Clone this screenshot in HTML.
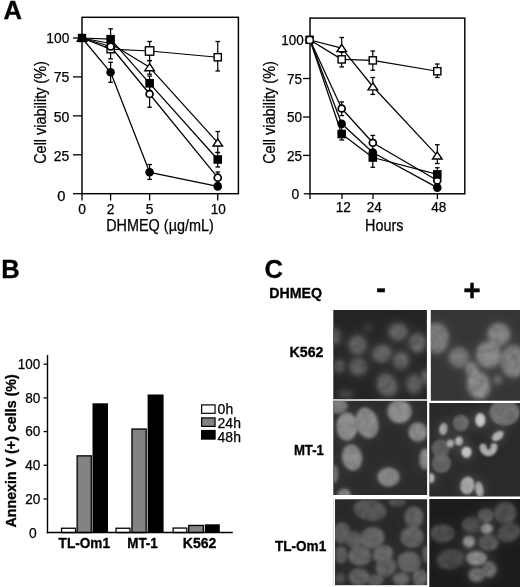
<!DOCTYPE html>
<html lang="en"><head><meta charset="utf-8"><title>Figure</title>
<style>html,body{margin:0;padding:0;background:#fff;}svg{display:block;}text{font-family:"Liberation Sans", Arial, Helvetica, sans-serif;fill:#000;}.t{font-size:14px;stroke:#000;stroke-width:0.25px;}.ax{font-size:15.6px;stroke:#000;stroke-width:0.25px;}.b{font-weight:bold;font-size:14px;stroke:#000;stroke-width:0.3px;}</style></head><body>
<svg width="520" height="587" viewBox="0 0 520 587">
<defs>
<filter id="glow" x="-50%" y="-50%" width="200%" height="200%"><feGaussianBlur stdDeviation="5"/></filter>
</defs>
<rect x="0" y="0" width="520" height="587" fill="#fff"/>
<g id="plotA1">
<rect x="82.00" y="17.30" width="156.40" height="176.40" fill="none" stroke="#000" stroke-width="1.45"/>
<line x1="73.00" y1="38.00" x2="82.00" y2="38.00" stroke="#000" stroke-width="1.30"/>
<text x="69.30" y="42.55" class="t" text-anchor="end" textLength="23.00" lengthAdjust="spacingAndGlyphs">100</text>
<line x1="73.00" y1="76.90" x2="82.00" y2="76.90" stroke="#000" stroke-width="1.30"/>
<text x="69.30" y="82.05" class="t" text-anchor="end" textLength="15.60" lengthAdjust="spacingAndGlyphs">75</text>
<line x1="73.00" y1="115.85" x2="82.00" y2="115.85" stroke="#000" stroke-width="1.30"/>
<text x="69.30" y="121.75" class="t" text-anchor="end" textLength="15.60" lengthAdjust="spacingAndGlyphs">50</text>
<line x1="73.00" y1="154.80" x2="82.00" y2="154.80" stroke="#000" stroke-width="1.30"/>
<text x="69.30" y="161.05" class="t" text-anchor="end" textLength="15.60" lengthAdjust="spacingAndGlyphs">25</text>
<line x1="73.00" y1="193.70" x2="82.00" y2="193.70" stroke="#000" stroke-width="1.30"/>
<text x="65.50" y="200.95" class="t" text-anchor="end" textLength="8.20" lengthAdjust="spacingAndGlyphs">0</text>
<line x1="82.00" y1="193.70" x2="82.00" y2="200.50" stroke="#000" stroke-width="1.30"/>
<text x="82.00" y="214.00" class="t" text-anchor="middle" textLength="7.70" lengthAdjust="spacingAndGlyphs">0</text>
<line x1="110.60" y1="193.70" x2="110.60" y2="200.50" stroke="#000" stroke-width="1.30"/>
<text x="110.60" y="214.00" class="t" text-anchor="middle" textLength="7.70" lengthAdjust="spacingAndGlyphs">2</text>
<line x1="149.60" y1="193.70" x2="149.60" y2="200.50" stroke="#000" stroke-width="1.30"/>
<text x="149.60" y="214.00" class="t" text-anchor="middle" textLength="7.70" lengthAdjust="spacingAndGlyphs">5</text>
<line x1="217.75" y1="193.70" x2="217.75" y2="200.50" stroke="#000" stroke-width="1.30"/>
<text x="218.35" y="214.00" class="t" text-anchor="middle" textLength="15.10" lengthAdjust="spacingAndGlyphs">10</text>
<text x="106.20" y="230.80" class="ax" text-anchor="start" textLength="107.60" lengthAdjust="spacingAndGlyphs">DHMEQ (µg/mL)</text>
<text transform="translate(45.70 163.80) rotate(-90)" class="ax" textLength="102.60" lengthAdjust="spacingAndGlyphs">Cell viability (%)</text>
<line x1="82.00" y1="38.00" x2="110.60" y2="43.50" stroke="#000" stroke-width="1.25"/>
<line x1="110.60" y1="43.50" x2="149.60" y2="67.30" stroke="#000" stroke-width="1.25"/>
<line x1="149.60" y1="67.30" x2="217.75" y2="142.60" stroke="#000" stroke-width="1.25"/>
<line x1="82.00" y1="38.00" x2="110.60" y2="49.20" stroke="#000" stroke-width="1.25"/>
<line x1="110.60" y1="49.20" x2="149.60" y2="51.00" stroke="#000" stroke-width="1.25"/>
<line x1="149.60" y1="51.00" x2="217.75" y2="57.25" stroke="#000" stroke-width="1.25"/>
<line x1="82.00" y1="38.00" x2="110.60" y2="46.50" stroke="#000" stroke-width="1.25"/>
<line x1="110.60" y1="46.50" x2="149.60" y2="94.00" stroke="#000" stroke-width="1.25"/>
<line x1="149.60" y1="94.00" x2="217.75" y2="177.70" stroke="#000" stroke-width="1.25"/>
<line x1="82.00" y1="38.00" x2="110.60" y2="39.20" stroke="#000" stroke-width="1.25"/>
<line x1="110.60" y1="39.20" x2="149.60" y2="83.30" stroke="#000" stroke-width="1.25"/>
<line x1="149.60" y1="83.30" x2="217.75" y2="159.50" stroke="#000" stroke-width="1.25"/>
<line x1="82.00" y1="38.00" x2="110.60" y2="72.30" stroke="#000" stroke-width="1.25"/>
<line x1="110.60" y1="72.30" x2="149.60" y2="172.30" stroke="#000" stroke-width="1.25"/>
<line x1="149.60" y1="172.30" x2="217.75" y2="186.40" stroke="#000" stroke-width="1.25"/>
<line x1="149.60" y1="60.60" x2="149.60" y2="74.20" stroke="#000" stroke-width="1.20"/>
<line x1="147.30" y1="60.60" x2="151.90" y2="60.60" stroke="#000" stroke-width="1.30"/>
<line x1="147.30" y1="74.20" x2="151.90" y2="74.20" stroke="#000" stroke-width="1.30"/>
<line x1="217.75" y1="131.50" x2="217.75" y2="152.50" stroke="#000" stroke-width="1.20"/>
<line x1="215.45" y1="131.50" x2="220.05" y2="131.50" stroke="#000" stroke-width="1.30"/>
<line x1="215.45" y1="152.50" x2="220.05" y2="152.50" stroke="#000" stroke-width="1.30"/>
<line x1="110.60" y1="40.00" x2="110.60" y2="58.85" stroke="#000" stroke-width="1.20"/>
<line x1="108.30" y1="40.00" x2="112.90" y2="40.00" stroke="#000" stroke-width="1.30"/>
<line x1="108.30" y1="58.85" x2="112.90" y2="58.85" stroke="#000" stroke-width="1.30"/>
<line x1="149.60" y1="41.50" x2="149.60" y2="60.60" stroke="#000" stroke-width="1.20"/>
<line x1="147.30" y1="41.50" x2="151.90" y2="41.50" stroke="#000" stroke-width="1.30"/>
<line x1="147.30" y1="60.60" x2="151.90" y2="60.60" stroke="#000" stroke-width="1.30"/>
<line x1="217.75" y1="41.50" x2="217.75" y2="71.00" stroke="#000" stroke-width="1.20"/>
<line x1="215.45" y1="41.50" x2="220.05" y2="41.50" stroke="#000" stroke-width="1.30"/>
<line x1="215.45" y1="71.00" x2="220.05" y2="71.00" stroke="#000" stroke-width="1.30"/>
<line x1="149.60" y1="81.00" x2="149.60" y2="107.25" stroke="#000" stroke-width="1.20"/>
<line x1="147.30" y1="81.00" x2="151.90" y2="81.00" stroke="#000" stroke-width="1.30"/>
<line x1="147.30" y1="107.25" x2="151.90" y2="107.25" stroke="#000" stroke-width="1.30"/>
<line x1="217.75" y1="172.00" x2="217.75" y2="183.00" stroke="#000" stroke-width="1.20"/>
<line x1="215.45" y1="172.00" x2="220.05" y2="172.00" stroke="#000" stroke-width="1.30"/>
<line x1="215.45" y1="183.00" x2="220.05" y2="183.00" stroke="#000" stroke-width="1.30"/>
<line x1="110.60" y1="28.85" x2="110.60" y2="49.00" stroke="#000" stroke-width="1.20"/>
<line x1="108.30" y1="28.85" x2="112.90" y2="28.85" stroke="#000" stroke-width="1.30"/>
<line x1="108.30" y1="49.00" x2="112.90" y2="49.00" stroke="#000" stroke-width="1.30"/>
<line x1="149.60" y1="76.00" x2="149.60" y2="90.50" stroke="#000" stroke-width="1.20"/>
<line x1="147.30" y1="76.00" x2="151.90" y2="76.00" stroke="#000" stroke-width="1.30"/>
<line x1="147.30" y1="90.50" x2="151.90" y2="90.50" stroke="#000" stroke-width="1.30"/>
<line x1="217.75" y1="152.50" x2="217.75" y2="167.00" stroke="#000" stroke-width="1.20"/>
<line x1="215.45" y1="152.50" x2="220.05" y2="152.50" stroke="#000" stroke-width="1.30"/>
<line x1="215.45" y1="167.00" x2="220.05" y2="167.00" stroke="#000" stroke-width="1.30"/>
<line x1="110.60" y1="62.30" x2="110.60" y2="82.30" stroke="#000" stroke-width="1.20"/>
<line x1="108.30" y1="62.30" x2="112.90" y2="62.30" stroke="#000" stroke-width="1.30"/>
<line x1="108.30" y1="82.30" x2="112.90" y2="82.30" stroke="#000" stroke-width="1.30"/>
<line x1="149.60" y1="164.50" x2="149.60" y2="179.40" stroke="#000" stroke-width="1.20"/>
<line x1="147.30" y1="164.50" x2="151.90" y2="164.50" stroke="#000" stroke-width="1.30"/>
<line x1="147.30" y1="179.40" x2="151.90" y2="179.40" stroke="#000" stroke-width="1.30"/>
<polygon points="110.60,39.80 105.80,46.90 115.40,46.90" fill="#fff" stroke="#000" stroke-width="1.40" stroke-linejoin="miter"/>
<polygon points="149.60,63.60 144.80,70.70 154.40,70.70" fill="#fff" stroke="#000" stroke-width="1.40" stroke-linejoin="miter"/>
<polygon points="217.75,138.90 212.95,146.00 222.55,146.00" fill="#fff" stroke="#000" stroke-width="1.40" stroke-linejoin="miter"/>
<rect x="107.00" y="45.60" width="7.20" height="7.20" fill="#fff" stroke="#000" stroke-width="1.40"/>
<rect x="145.40" y="46.80" width="8.40" height="8.40" fill="#fff" stroke="#000" stroke-width="1.40"/>
<rect x="214.15" y="53.65" width="7.20" height="7.20" fill="#fff" stroke="#000" stroke-width="1.40"/>
<circle cx="110.60" cy="46.50" r="3.47" fill="#fff" stroke="#000" stroke-width="1.75"/>
<circle cx="149.60" cy="94.00" r="3.47" fill="#fff" stroke="#000" stroke-width="1.75"/>
<circle cx="217.75" cy="177.70" r="3.47" fill="#fff" stroke="#000" stroke-width="1.75"/>
<rect x="106.30" y="34.90" width="8.60" height="8.60" fill="#000"/>
<rect x="145.30" y="79.00" width="8.60" height="8.60" fill="#000"/>
<rect x="213.45" y="155.20" width="8.60" height="8.60" fill="#000"/>
<circle cx="110.60" cy="72.30" r="4.30" fill="#000"/>
<circle cx="149.60" cy="172.30" r="4.30" fill="#000"/>
<circle cx="217.75" cy="186.40" r="4.30" fill="#000"/>
<polygon points="82.00,34.30 77.20,41.40 86.80,41.40" fill="#fff" stroke="#000" stroke-width="1.40" stroke-linejoin="miter"/>
<rect x="77.80" y="33.80" width="8.40" height="8.40" fill="#000"/>
</g>
<g id="plotA2">
<rect x="310.00" y="18.10" width="154.80" height="175.70" fill="none" stroke="#000" stroke-width="1.45"/>
<line x1="304.80" y1="40.00" x2="310.00" y2="40.00" stroke="#000" stroke-width="1.30"/>
<text x="303.80" y="44.55" class="t" text-anchor="end" textLength="22.50" lengthAdjust="spacingAndGlyphs">100</text>
<line x1="303.00" y1="78.50" x2="310.00" y2="78.50" stroke="#000" stroke-width="1.30"/>
<text x="302.00" y="84.10" class="t" text-anchor="end" textLength="15.10" lengthAdjust="spacingAndGlyphs">75</text>
<line x1="303.00" y1="117.00" x2="310.00" y2="117.00" stroke="#000" stroke-width="1.30"/>
<text x="302.00" y="122.30" class="t" text-anchor="end" textLength="15.10" lengthAdjust="spacingAndGlyphs">50</text>
<line x1="303.00" y1="155.40" x2="310.00" y2="155.40" stroke="#000" stroke-width="1.30"/>
<text x="302.00" y="161.00" class="t" text-anchor="end" textLength="15.10" lengthAdjust="spacingAndGlyphs">25</text>
<line x1="303.80" y1="193.80" x2="310.00" y2="193.80" stroke="#000" stroke-width="1.30"/>
<text x="299.30" y="199.10" class="t" text-anchor="end" textLength="7.70" lengthAdjust="spacingAndGlyphs">0</text>
<line x1="310.00" y1="193.80" x2="310.00" y2="199.00" stroke="#000" stroke-width="1.30"/>
<line x1="342.00" y1="193.80" x2="342.00" y2="199.00" stroke="#000" stroke-width="1.30"/>
<text x="343.30" y="211.70" class="t" text-anchor="middle" textLength="15.10" lengthAdjust="spacingAndGlyphs">12</text>
<line x1="373.00" y1="193.80" x2="373.00" y2="199.00" stroke="#000" stroke-width="1.30"/>
<text x="374.30" y="211.70" class="t" text-anchor="middle" textLength="15.10" lengthAdjust="spacingAndGlyphs">24</text>
<line x1="437.40" y1="193.80" x2="437.40" y2="199.00" stroke="#000" stroke-width="1.30"/>
<text x="438.70" y="211.70" class="t" text-anchor="middle" textLength="15.10" lengthAdjust="spacingAndGlyphs">48</text>
<text x="365.00" y="230.50" class="ax" text-anchor="start" textLength="38.40" lengthAdjust="spacingAndGlyphs">Hours</text>
<text transform="translate(274.50 163.80) rotate(-90)" class="ax" textLength="102.60" lengthAdjust="spacingAndGlyphs">Cell viability (%)</text>
<line x1="310.00" y1="40.00" x2="341.70" y2="108.50" stroke="#000" stroke-width="1.25"/>
<line x1="341.70" y1="108.50" x2="372.80" y2="142.75" stroke="#000" stroke-width="1.25"/>
<line x1="372.80" y1="142.75" x2="437.30" y2="180.50" stroke="#000" stroke-width="1.25"/>
<line x1="310.00" y1="40.00" x2="341.70" y2="48.20" stroke="#000" stroke-width="1.25"/>
<line x1="341.70" y1="48.20" x2="372.80" y2="86.50" stroke="#000" stroke-width="1.25"/>
<line x1="372.80" y1="86.50" x2="437.30" y2="155.60" stroke="#000" stroke-width="1.25"/>
<line x1="310.00" y1="40.00" x2="341.70" y2="59.40" stroke="#000" stroke-width="1.25"/>
<line x1="341.70" y1="59.40" x2="372.80" y2="60.40" stroke="#000" stroke-width="1.25"/>
<line x1="372.80" y1="60.40" x2="437.30" y2="71.25" stroke="#000" stroke-width="1.25"/>
<line x1="310.00" y1="40.00" x2="341.70" y2="123.75" stroke="#000" stroke-width="1.25"/>
<line x1="341.70" y1="123.75" x2="372.80" y2="152.50" stroke="#000" stroke-width="1.25"/>
<line x1="372.80" y1="152.50" x2="437.30" y2="187.60" stroke="#000" stroke-width="1.25"/>
<line x1="310.00" y1="40.00" x2="341.70" y2="134.00" stroke="#000" stroke-width="1.25"/>
<line x1="341.70" y1="134.00" x2="372.80" y2="157.50" stroke="#000" stroke-width="1.25"/>
<line x1="372.80" y1="157.50" x2="437.30" y2="174.40" stroke="#000" stroke-width="1.25"/>
<line x1="341.70" y1="101.90" x2="341.70" y2="115.60" stroke="#000" stroke-width="1.20"/>
<line x1="339.40" y1="101.90" x2="344.00" y2="101.90" stroke="#000" stroke-width="1.30"/>
<line x1="339.40" y1="115.60" x2="344.00" y2="115.60" stroke="#000" stroke-width="1.30"/>
<line x1="372.80" y1="135.40" x2="372.80" y2="150.00" stroke="#000" stroke-width="1.20"/>
<line x1="370.50" y1="135.40" x2="375.10" y2="135.40" stroke="#000" stroke-width="1.30"/>
<line x1="370.50" y1="150.00" x2="375.10" y2="150.00" stroke="#000" stroke-width="1.30"/>
<line x1="341.70" y1="37.50" x2="341.70" y2="52.00" stroke="#000" stroke-width="1.20"/>
<line x1="339.40" y1="37.50" x2="344.00" y2="37.50" stroke="#000" stroke-width="1.30"/>
<line x1="339.40" y1="52.00" x2="344.00" y2="52.00" stroke="#000" stroke-width="1.30"/>
<line x1="372.80" y1="77.50" x2="372.80" y2="94.40" stroke="#000" stroke-width="1.20"/>
<line x1="370.50" y1="77.50" x2="375.10" y2="77.50" stroke="#000" stroke-width="1.30"/>
<line x1="370.50" y1="94.40" x2="375.10" y2="94.40" stroke="#000" stroke-width="1.30"/>
<line x1="437.30" y1="144.75" x2="437.30" y2="163.50" stroke="#000" stroke-width="1.20"/>
<line x1="435.00" y1="144.75" x2="439.60" y2="144.75" stroke="#000" stroke-width="1.30"/>
<line x1="435.00" y1="163.50" x2="439.60" y2="163.50" stroke="#000" stroke-width="1.30"/>
<line x1="341.70" y1="52.00" x2="341.70" y2="66.90" stroke="#000" stroke-width="1.20"/>
<line x1="339.40" y1="52.00" x2="344.00" y2="52.00" stroke="#000" stroke-width="1.30"/>
<line x1="339.40" y1="66.90" x2="344.00" y2="66.90" stroke="#000" stroke-width="1.30"/>
<line x1="372.80" y1="51.00" x2="372.80" y2="70.25" stroke="#000" stroke-width="1.20"/>
<line x1="370.50" y1="51.00" x2="375.10" y2="51.00" stroke="#000" stroke-width="1.30"/>
<line x1="370.50" y1="70.25" x2="375.10" y2="70.25" stroke="#000" stroke-width="1.30"/>
<line x1="437.30" y1="64.00" x2="437.30" y2="77.50" stroke="#000" stroke-width="1.20"/>
<line x1="435.00" y1="64.00" x2="439.60" y2="64.00" stroke="#000" stroke-width="1.30"/>
<line x1="435.00" y1="77.50" x2="439.60" y2="77.50" stroke="#000" stroke-width="1.30"/>
<line x1="341.70" y1="127.00" x2="341.70" y2="140.00" stroke="#000" stroke-width="1.20"/>
<line x1="339.40" y1="127.00" x2="344.00" y2="127.00" stroke="#000" stroke-width="1.30"/>
<line x1="339.40" y1="140.00" x2="344.00" y2="140.00" stroke="#000" stroke-width="1.30"/>
<line x1="372.80" y1="150.00" x2="372.80" y2="167.25" stroke="#000" stroke-width="1.20"/>
<line x1="370.50" y1="150.00" x2="375.10" y2="150.00" stroke="#000" stroke-width="1.30"/>
<line x1="370.50" y1="167.25" x2="375.10" y2="167.25" stroke="#000" stroke-width="1.30"/>
<line x1="437.30" y1="167.75" x2="437.30" y2="180.00" stroke="#000" stroke-width="1.20"/>
<line x1="435.00" y1="167.75" x2="439.60" y2="167.75" stroke="#000" stroke-width="1.30"/>
<line x1="435.00" y1="180.00" x2="439.60" y2="180.00" stroke="#000" stroke-width="1.30"/>
<circle cx="341.70" cy="108.50" r="3.47" fill="#fff" stroke="#000" stroke-width="1.75"/>
<circle cx="372.80" cy="142.75" r="3.47" fill="#fff" stroke="#000" stroke-width="1.75"/>
<circle cx="437.30" cy="180.50" r="3.47" fill="#fff" stroke="#000" stroke-width="1.75"/>
<polygon points="341.70,44.50 336.90,51.60 346.50,51.60" fill="#fff" stroke="#000" stroke-width="1.40" stroke-linejoin="miter"/>
<polygon points="372.80,82.80 368.00,89.90 377.60,89.90" fill="#fff" stroke="#000" stroke-width="1.40" stroke-linejoin="miter"/>
<polygon points="437.30,151.90 432.50,159.00 442.10,159.00" fill="#fff" stroke="#000" stroke-width="1.40" stroke-linejoin="miter"/>
<rect x="338.10" y="55.80" width="7.20" height="7.20" fill="#fff" stroke="#000" stroke-width="1.40"/>
<rect x="369.20" y="56.80" width="7.20" height="7.20" fill="#fff" stroke="#000" stroke-width="1.40"/>
<rect x="433.70" y="67.65" width="7.20" height="7.20" fill="#fff" stroke="#000" stroke-width="1.40"/>
<circle cx="341.70" cy="123.75" r="4.30" fill="#000"/>
<circle cx="372.80" cy="152.50" r="4.30" fill="#000"/>
<circle cx="437.30" cy="187.60" r="4.30" fill="#000"/>
<rect x="337.40" y="129.70" width="8.60" height="8.60" fill="#000"/>
<rect x="368.50" y="153.20" width="8.60" height="8.60" fill="#000"/>
<rect x="433.00" y="170.10" width="8.60" height="8.60" fill="#000"/>
<rect x="305.35" y="35.55" width="8.50" height="8.50" fill="#000"/>
<circle cx="309.7" cy="39.9" r="3.5" fill="#fff" stroke="#000" stroke-width="1.1"/>
</g>
<text x="3.60" y="18.80" class="b" text-anchor="start" style="font-size:25.6px">A</text>
<text x="1.20" y="277.90" class="b" text-anchor="start" style="font-size:25.6px">B</text>
<text x="264.40" y="278.00" class="b" text-anchor="start" style="font-size:25.6px">C</text>
<g id="plotB">
<rect x="61.55" y="528.25" width="14.00" height="4.35" fill="#fff" stroke="#000" stroke-width="1.3"/>
<rect x="77.15" y="455.85" width="14.10" height="76.75" fill="#838383" stroke="#000" stroke-width="1.3"/>
<rect x="92.50" y="403.30" width="15.50" height="129.30" fill="#000"/>
<rect x="116.05" y="528.25" width="13.90" height="4.35" fill="#fff" stroke="#000" stroke-width="1.3"/>
<rect x="131.95" y="429.05" width="14.20" height="103.55" fill="#838383" stroke="#000" stroke-width="1.3"/>
<rect x="147.60" y="394.50" width="16.00" height="138.10" fill="#000"/>
<rect x="173.15" y="528.05" width="13.70" height="4.55" fill="#fff" stroke="#000" stroke-width="1.3"/>
<rect x="188.75" y="525.45" width="14.60" height="7.15" fill="#838383" stroke="#000" stroke-width="1.3"/>
<rect x="204.80" y="524.30" width="15.00" height="8.30" fill="#000"/>
<line x1="47.50" y1="355.00" x2="47.50" y2="533.30" stroke="#000" stroke-width="1.40"/>
<line x1="46.80" y1="532.60" x2="232.80" y2="532.60" stroke="#000" stroke-width="1.50"/>
<line x1="43.60" y1="498.92" x2="47.50" y2="498.92" stroke="#000" stroke-width="1.30"/>
<text x="40.30" y="503.67" class="t" text-anchor="end" textLength="15.10" lengthAdjust="spacingAndGlyphs">20</text>
<line x1="43.60" y1="465.24" x2="47.50" y2="465.24" stroke="#000" stroke-width="1.30"/>
<text x="40.30" y="469.99" class="t" text-anchor="end" textLength="15.10" lengthAdjust="spacingAndGlyphs">40</text>
<line x1="43.60" y1="431.56" x2="47.50" y2="431.56" stroke="#000" stroke-width="1.30"/>
<text x="40.30" y="436.31" class="t" text-anchor="end" textLength="15.10" lengthAdjust="spacingAndGlyphs">60</text>
<line x1="43.60" y1="397.88" x2="47.50" y2="397.88" stroke="#000" stroke-width="1.30"/>
<text x="40.30" y="402.63" class="t" text-anchor="end" textLength="15.10" lengthAdjust="spacingAndGlyphs">80</text>
<line x1="43.60" y1="364.20" x2="47.50" y2="364.20" stroke="#000" stroke-width="1.30"/>
<text x="40.30" y="368.95" class="t" text-anchor="end" textLength="22.50" lengthAdjust="spacingAndGlyphs">100</text>
<text x="36.60" y="537.90" class="t" text-anchor="end" textLength="7.70" lengthAdjust="spacingAndGlyphs">0</text>
<text transform="translate(15.90 527.50) rotate(-90)" class="b" textLength="153.20" lengthAdjust="spacingAndGlyphs">Annexin V (+) cells (%)</text>
<text x="58.60" y="548.10" class="b" text-anchor="start" textLength="51.40" lengthAdjust="spacingAndGlyphs" style="font-size:14px">TL-Om1</text>
<text x="127.20" y="548.10" class="b" text-anchor="start" textLength="30.60" lengthAdjust="spacingAndGlyphs" style="font-size:14px">MT-1</text>
<text x="182.80" y="548.10" class="b" text-anchor="start" textLength="33.60" lengthAdjust="spacingAndGlyphs" style="font-size:14px">K562</text>
<rect x="201.65" y="404.9" width="13.4" height="8.4" fill="#fff" stroke="#000" stroke-width="1.2"/>
<rect x="201.65" y="417.9" width="13.4" height="8.5" fill="#838383" stroke="#000" stroke-width="1.2"/>
<rect x="201.0" y="429.9" width="14.7" height="9.8" fill="#000"/>
<text x="217.60" y="414.40" class="t" text-anchor="start">0h</text>
<text x="217.60" y="428.10" class="t" text-anchor="start" textLength="23.30" lengthAdjust="spacingAndGlyphs">24h</text>
<text x="217.60" y="441.90" class="t" text-anchor="start" textLength="23.30" lengthAdjust="spacingAndGlyphs">48h</text>
</g>
<g id="panelC">
<text x="269.20" y="298.00" class="b" text-anchor="start" textLength="52.80" lengthAdjust="spacingAndGlyphs" style="font-size:14px">DHMEQ</text>
<text x="380.90" y="297.80" class="b" text-anchor="middle" style="font-size:30px">-</text>
<text x="472.10" y="299.90" class="b" text-anchor="middle" style="font-size:30px">+</text>
<text x="323.40" y="356.50" class="b" text-anchor="end" textLength="33.90" lengthAdjust="spacingAndGlyphs" style="font-size:14px">K562</text>
<text x="323.90" y="455.40" class="b" text-anchor="end" textLength="30.00" lengthAdjust="spacingAndGlyphs" style="font-size:14px">MT-1</text>
<text x="326.20" y="550.80" class="b" text-anchor="end" textLength="51.20" lengthAdjust="spacingAndGlyphs" style="font-size:14px">TL-Om1</text>
<clipPath id="c_m1"><rect x="333.30" y="310.00" width="93.60" height="89.20"/></clipPath>
<g clip-path="url(#c_m1)">
<rect x="328.30" y="305.00" width="103.60" height="99.20" fill="#242424"/>
<g filter="url(#glow)" opacity="0.28">
<ellipse cx="398.0" cy="332.0" rx="13.0" ry="12.0" fill="#6a6a6a"/>
<ellipse cx="357.6" cy="345.0" rx="12.0" ry="13.0" fill="#6a6a6a"/>
<ellipse cx="417.6" cy="343.0" rx="12.0" ry="13.0" fill="#6c6c6c"/>
<ellipse cx="382.0" cy="353.6" rx="13.0" ry="12.0" fill="#6e6e6e" transform="rotate(-20 382.0 353.6)"/>
<ellipse cx="401.0" cy="360.4" rx="11.5" ry="12.0" fill="#686868"/>
<ellipse cx="358.0" cy="367.0" rx="12.0" ry="12.0" fill="#666"/>
<ellipse cx="339.0" cy="366.0" rx="9.0" ry="10.0" fill="#5c5c5c"/>
<ellipse cx="387.0" cy="385.0" rx="13.0" ry="15.0" fill="#6c6c6c" transform="rotate(-30 387.0 385.0)"/>
<ellipse cx="414.0" cy="384.0" rx="11.0" ry="13.0" fill="#666"/>
<ellipse cx="335.0" cy="336.5" rx="9.0" ry="12.0" fill="#5e5e5e"/>
<ellipse cx="368.0" cy="328.0" rx="9.0" ry="8.0" fill="#3a3a3a"/>
<ellipse cx="346.0" cy="394.0" rx="11.0" ry="8.0" fill="#484848"/>
<ellipse cx="425.5" cy="377.0" rx="6.5" ry="11.0" fill="#787878"/>
</g>
<filter id="f_m1" x="-50%" y="-50%" width="200%" height="200%" color-interpolation-filters="sRGB"><feGaussianBlur stdDeviation="1.90" result="b"/><feTurbulence type="fractalNoise" baseFrequency="0.13" numOctaves="2" seed="4" result="t"/><feColorMatrix in="t" type="matrix" values="0 0 0 0 0  0 0 0 0 0  0 0 0 0 0  1.6 0 0 0 -0.3" result="ta"/><feComposite in="ta" in2="b" operator="in" result="dk"/><feComponentTransfer in="dk" result="dk2"><feFuncA type="linear" slope="0.18"/></feComponentTransfer><feMerge><feMergeNode in="b"/><feMergeNode in="dk2"/></feMerge></filter>
<g filter="url(#f_m1)">
<ellipse cx="398.0" cy="332.0" rx="9.3" ry="8.3" fill="#686868"/>
<ellipse cx="357.6" cy="345.0" rx="8.3" ry="9.3" fill="#686868"/>
<ellipse cx="417.6" cy="343.0" rx="8.3" ry="9.3" fill="#6a6a6a"/>
<ellipse cx="382.0" cy="353.6" rx="9.3" ry="8.3" fill="#6c6c6c" transform="rotate(-20 382.0 353.6)"/>
<ellipse cx="401.0" cy="360.4" rx="7.8" ry="8.3" fill="#666666"/>
<ellipse cx="358.0" cy="367.0" rx="8.3" ry="8.3" fill="#646464"/>
<ellipse cx="339.0" cy="366.0" rx="5.3" ry="6.3" fill="#5a5a5a"/>
<ellipse cx="387.0" cy="385.0" rx="9.3" ry="11.3" fill="#6a6a6a" transform="rotate(-30 387.0 385.0)"/>
<ellipse cx="414.0" cy="384.0" rx="7.3" ry="9.3" fill="#646464"/>
<ellipse cx="335.0" cy="336.5" rx="5.3" ry="8.3" fill="#5c5c5c"/>
<ellipse cx="368.0" cy="328.0" rx="5.3" ry="4.3" fill="#383838"/>
<ellipse cx="346.0" cy="394.0" rx="7.3" ry="4.3" fill="#464646"/>
<ellipse cx="425.5" cy="377.0" rx="2.8" ry="7.3" fill="#767676"/>
</g></g>
<clipPath id="c_m2"><rect x="430.80" y="310.00" width="89.20" height="90.80"/></clipPath>
<g clip-path="url(#c_m2)">
<rect x="425.80" y="305.00" width="99.20" height="100.80" fill="#363636"/>
<g filter="url(#glow)" opacity="0.25">
<ellipse cx="436.5" cy="338.2" rx="15.0" ry="18.0" fill="#707070"/>
<ellipse cx="459.0" cy="357.6" rx="13.0" ry="13.0" fill="#6a6a6a"/>
<ellipse cx="498.8" cy="334.5" rx="14.0" ry="14.0" fill="#787878"/>
<ellipse cx="488.6" cy="354.8" rx="15.0" ry="16.0" fill="#7c7c7c"/>
<ellipse cx="513.5" cy="361.3" rx="16.0" ry="19.0" fill="#727272"/>
<ellipse cx="478.5" cy="385.0" rx="14.0" ry="17.0" fill="#7e7e7e" transform="rotate(-15 478.5 385.0)"/>
<ellipse cx="472.0" cy="369.5" rx="9.0" ry="10.5" fill="#7a7a7a"/>
<ellipse cx="497.8" cy="379.8" rx="7.5" ry="7.5" fill="#5c5c5c"/>
</g>
<filter id="f_m2" x="-50%" y="-50%" width="200%" height="200%" color-interpolation-filters="sRGB"><feGaussianBlur stdDeviation="2.00" result="b"/><feTurbulence type="fractalNoise" baseFrequency="0.13" numOctaves="2" seed="5" result="t"/><feColorMatrix in="t" type="matrix" values="0 0 0 0 0  0 0 0 0 0  0 0 0 0 0  1.6 0 0 0 -0.3" result="ta"/><feComposite in="ta" in2="b" operator="in" result="dk"/><feComponentTransfer in="dk" result="dk2"><feFuncA type="linear" slope="0.16"/></feComponentTransfer><feMerge><feMergeNode in="b"/><feMergeNode in="dk2"/></feMerge></filter>
<g filter="url(#f_m2)">
<ellipse cx="436.5" cy="338.2" rx="12.0" ry="15.0" fill="#838383"/>
<ellipse cx="459.0" cy="357.6" rx="10.0" ry="10.0" fill="#7d7d7d"/>
<ellipse cx="498.8" cy="334.5" rx="11.0" ry="11.0" fill="#8b8b8b"/>
<ellipse cx="488.6" cy="354.8" rx="12.0" ry="13.0" fill="#8f8f8f"/>
<ellipse cx="513.5" cy="361.3" rx="13.0" ry="16.0" fill="#858585"/>
<ellipse cx="478.5" cy="385.0" rx="11.0" ry="14.0" fill="#919191" transform="rotate(-15 478.5 385.0)"/>
<ellipse cx="472.0" cy="369.5" rx="6.0" ry="7.5" fill="#8d8d8d"/>
<ellipse cx="497.8" cy="379.8" rx="4.5" ry="4.5" fill="#6f6f6f"/>
</g></g>
<clipPath id="c_m3"><rect x="333.30" y="400.80" width="93.80" height="94.20"/></clipPath>
<g clip-path="url(#c_m3)">
<rect x="328.30" y="395.80" width="103.80" height="104.20" fill="#2c2c2c"/>
<g filter="url(#glow)" opacity="0.12">
<ellipse cx="338.0" cy="406.0" rx="12.5" ry="10.5" fill="#808080"/>
<ellipse cx="347.0" cy="426.5" rx="13.5" ry="17.0" fill="#929292"/>
<ellipse cx="367.0" cy="423.0" rx="14.0" ry="18.5" fill="#8e8e8e" transform="rotate(-15 367.0 423.0)"/>
<ellipse cx="399.5" cy="411.5" rx="15.0" ry="14.5" fill="#929292"/>
<ellipse cx="418.0" cy="432.0" rx="12.5" ry="12.5" fill="#8c8c8c"/>
<ellipse cx="352.0" cy="457.5" rx="13.0" ry="16.0" fill="#8e8e8e" transform="rotate(-10 352.0 457.5)"/>
<ellipse cx="388.5" cy="477.0" rx="14.0" ry="12.5" fill="#8a8a8a"/>
<ellipse cx="425.0" cy="459.0" rx="8.5" ry="13.5" fill="#8a8a8a"/>
<ellipse cx="334.5" cy="474.0" rx="6.5" ry="12.0" fill="#7a7a7a"/>
<ellipse cx="344.2" cy="494.8" rx="9.5" ry="9.0" fill="#888888"/>
</g>
<filter id="f_m3" x="-50%" y="-50%" width="200%" height="200%" color-interpolation-filters="sRGB"><feGaussianBlur stdDeviation="1.60" result="b"/><feTurbulence type="fractalNoise" baseFrequency="0.13" numOctaves="2" seed="6" result="t"/><feColorMatrix in="t" type="matrix" values="0 0 0 0 0  0 0 0 0 0  0 0 0 0 0  1.6 0 0 0 -0.3" result="ta"/><feComposite in="ta" in2="b" operator="in" result="dk"/><feComponentTransfer in="dk" result="dk2"><feFuncA type="linear" slope="0.15"/></feComponentTransfer><feMerge><feMergeNode in="b"/><feMergeNode in="dk2"/></feMerge></filter>
<g filter="url(#f_m3)">
<ellipse cx="338.0" cy="406.0" rx="9.5" ry="7.5" fill="#828282"/>
<ellipse cx="347.0" cy="426.5" rx="10.5" ry="14.0" fill="#949494"/>
<ellipse cx="367.0" cy="423.0" rx="11.0" ry="15.5" fill="#909090" transform="rotate(-15 367.0 423.0)"/>
<ellipse cx="399.5" cy="411.5" rx="12.0" ry="11.5" fill="#949494"/>
<ellipse cx="418.0" cy="432.0" rx="9.5" ry="9.5" fill="#8e8e8e"/>
<ellipse cx="352.0" cy="457.5" rx="10.0" ry="13.0" fill="#909090" transform="rotate(-10 352.0 457.5)"/>
<ellipse cx="388.5" cy="477.0" rx="11.0" ry="9.5" fill="#8c8c8c"/>
<ellipse cx="425.0" cy="459.0" rx="5.5" ry="10.5" fill="#8c8c8c"/>
<ellipse cx="334.5" cy="474.0" rx="3.5" ry="9.0" fill="#7c7c7c"/>
<ellipse cx="344.2" cy="494.8" rx="6.5" ry="6.0" fill="#8a8a8a"/>
</g></g>
<clipPath id="c_m4"><rect x="429.30" y="403.00" width="90.70" height="93.50"/></clipPath>
<g clip-path="url(#c_m4)">
<rect x="424.30" y="398.00" width="100.70" height="103.50" fill="#2a2a2a"/>
<g filter="url(#glow)" opacity="0.18">
<ellipse cx="504.5" cy="412.5" rx="18.0" ry="16.0" fill="#727272"/>
<ellipse cx="461.0" cy="423.0" rx="11.0" ry="11.0" fill="#686868"/>
<ellipse cx="440.6" cy="448.5" rx="12.0" ry="12.0" fill="#626262"/>
<ellipse cx="441.5" cy="463.3" rx="12.5" ry="12.5" fill="#666666"/>
<ellipse cx="480.3" cy="420.0" rx="8.0" ry="10.0" fill="#c8c8c8"/>
<ellipse cx="443.4" cy="429.0" rx="7.0" ry="9.0" fill="#ababab" transform="rotate(10 443.4 429.0)"/>
<ellipse cx="497.8" cy="436.0" rx="9.5" ry="7.0" fill="#bbbbbb" transform="rotate(-35 497.8 436.0)"/>
<ellipse cx="459.0" cy="441.0" rx="7.0" ry="7.5" fill="#b0b0b0"/>
<ellipse cx="450.4" cy="443.4" rx="6.5" ry="7.0" fill="#a8a8a8"/>
<ellipse cx="466.5" cy="452.2" rx="8.0" ry="8.5" fill="#cccccc"/>
<ellipse cx="467.4" cy="485.5" rx="10.0" ry="12.0" fill="#a8a8a8" transform="rotate(10 467.4 485.5)"/>
<ellipse cx="479.4" cy="489.5" rx="7.0" ry="11.0" fill="#aaaaaa" transform="rotate(-10 479.4 489.5)"/>
<ellipse cx="431.0" cy="478.3" rx="6.5" ry="8.0" fill="#b4b4b4"/>
</g>
<filter id="f_m4" x="-50%" y="-50%" width="200%" height="200%" color-interpolation-filters="sRGB"><feGaussianBlur stdDeviation="1.20" result="b"/><feTurbulence type="fractalNoise" baseFrequency="0.13" numOctaves="2" seed="7" result="t"/><feColorMatrix in="t" type="matrix" values="0 0 0 0 0  0 0 0 0 0  0 0 0 0 0  1.6 0 0 0 -0.3" result="ta"/><feComposite in="ta" in2="b" operator="in" result="dk"/><feComponentTransfer in="dk" result="dk2"><feFuncA type="linear" slope="0.14"/></feComponentTransfer><feMerge><feMergeNode in="b"/><feMergeNode in="dk2"/></feMerge></filter>
<g filter="url(#f_m4)">
<ellipse cx="504.5" cy="412.5" rx="15.0" ry="13.0" fill="#767676"/>
<ellipse cx="461.0" cy="423.0" rx="8.0" ry="8.0" fill="#6c6c6c"/>
<ellipse cx="440.6" cy="448.5" rx="9.0" ry="9.0" fill="#666666"/>
<ellipse cx="441.5" cy="463.3" rx="9.5" ry="9.5" fill="#6a6a6a"/>
<ellipse cx="480.3" cy="420.0" rx="5.0" ry="7.0" fill="#cccccc"/>
<ellipse cx="443.4" cy="429.0" rx="4.0" ry="6.0" fill="#afafaf" transform="rotate(10 443.4 429.0)"/>
<ellipse cx="497.8" cy="436.0" rx="6.5" ry="4.0" fill="#bfbfbf" transform="rotate(-35 497.8 436.0)"/>
<ellipse cx="459.0" cy="441.0" rx="4.0" ry="4.5" fill="#b4b4b4"/>
<ellipse cx="450.4" cy="443.4" rx="3.5" ry="4.0" fill="#acacac"/>
<ellipse cx="466.5" cy="452.2" rx="5.0" ry="5.5" fill="#d0d0d0"/>
<ellipse cx="467.4" cy="485.5" rx="7.0" ry="9.0" fill="#acacac" transform="rotate(10 467.4 485.5)"/>
<ellipse cx="479.4" cy="489.5" rx="4.0" ry="8.0" fill="#aeaeae" transform="rotate(-10 479.4 489.5)"/>
<ellipse cx="431.0" cy="478.3" rx="3.5" ry="5.0" fill="#b8b8b8"/>
<path d="M483.0 447.2 A5.4 5.8 0 0 0 494.0 446.6" fill="none" stroke="#b8b8b8" stroke-width="6.8" stroke-linecap="round"/>
</g></g>
<clipPath id="c_m5"><rect x="335.00" y="499.20" width="92.10" height="85.80"/></clipPath>
<g clip-path="url(#c_m5)">
<rect x="330.00" y="494.20" width="102.10" height="95.80" fill="#282828"/>
<g filter="url(#glow)" opacity="0.15">
<ellipse cx="370.0" cy="510.0" rx="19.0" ry="13.0" fill="#525252" transform="rotate(10 370.0 510.0)"/>
<ellipse cx="414.0" cy="517.0" rx="12.0" ry="13.0" fill="#5c5c5c"/>
<ellipse cx="397.0" cy="502.0" rx="11.0" ry="7.0" fill="#4c4c4c"/>
<ellipse cx="342.0" cy="533.0" rx="11.0" ry="13.0" fill="#5a5a5a"/>
<ellipse cx="372.0" cy="538.0" rx="15.0" ry="13.0" fill="#626262" transform="rotate(-15 372.0 538.0)"/>
<ellipse cx="354.0" cy="540.0" rx="10.0" ry="11.0" fill="#5a5a5a"/>
<ellipse cx="412.0" cy="537.0" rx="14.0" ry="13.0" fill="#5e5e5e"/>
<ellipse cx="341.0" cy="555.0" rx="9.0" ry="11.0" fill="#565656"/>
<ellipse cx="360.0" cy="556.0" rx="14.0" ry="12.0" fill="#606060"/>
<ellipse cx="383.0" cy="554.0" rx="13.0" ry="11.0" fill="#646464" transform="rotate(-20 383.0 554.0)"/>
<ellipse cx="409.0" cy="562.0" rx="14.0" ry="13.0" fill="#606060"/>
<ellipse cx="386.0" cy="567.0" rx="13.0" ry="12.0" fill="#5e5e5e" transform="rotate(-20 386.0 567.0)"/>
<ellipse cx="359.0" cy="577.0" rx="13.0" ry="11.0" fill="#5c5c5c"/>
<ellipse cx="375.0" cy="580.0" rx="11.0" ry="8.0" fill="#5c5c5c"/>
<ellipse cx="401.0" cy="579.0" rx="11.0" ry="9.0" fill="#626262"/>
<ellipse cx="420.0" cy="578.0" rx="10.0" ry="11.0" fill="#626262"/>
<ellipse cx="426.0" cy="554.0" rx="6.0" ry="11.0" fill="#585858"/>
<ellipse cx="340.0" cy="578.0" rx="8.0" ry="8.0" fill="#444"/>
</g>
<filter id="f_m5" x="-50%" y="-50%" width="200%" height="200%" color-interpolation-filters="sRGB"><feGaussianBlur stdDeviation="1.35" result="b"/><feTurbulence type="fractalNoise" baseFrequency="0.13" numOctaves="2" seed="8" result="t"/><feColorMatrix in="t" type="matrix" values="0 0 0 0 0  0 0 0 0 0  0 0 0 0 0  1.6 0 0 0 -0.3" result="ta"/><feComposite in="ta" in2="b" operator="in" result="dk"/><feComponentTransfer in="dk" result="dk2"><feFuncA type="linear" slope="0.18"/></feComponentTransfer><feMerge><feMergeNode in="b"/><feMergeNode in="dk2"/></feMerge></filter>
<g filter="url(#f_m5)">
<ellipse cx="370.0" cy="510.0" rx="16.5" ry="10.5" fill="#5c5c5c" transform="rotate(10 370.0 510.0)"/>
<ellipse cx="414.0" cy="517.0" rx="9.5" ry="10.5" fill="#666666"/>
<ellipse cx="397.0" cy="502.0" rx="8.5" ry="4.5" fill="#565656"/>
<ellipse cx="342.0" cy="533.0" rx="8.5" ry="10.5" fill="#646464"/>
<ellipse cx="372.0" cy="538.0" rx="12.5" ry="10.5" fill="#6c6c6c" transform="rotate(-15 372.0 538.0)"/>
<ellipse cx="354.0" cy="540.0" rx="7.5" ry="8.5" fill="#646464"/>
<ellipse cx="412.0" cy="537.0" rx="11.5" ry="10.5" fill="#686868"/>
<ellipse cx="341.0" cy="555.0" rx="6.5" ry="8.5" fill="#606060"/>
<ellipse cx="360.0" cy="556.0" rx="11.5" ry="9.5" fill="#6a6a6a"/>
<ellipse cx="383.0" cy="554.0" rx="10.5" ry="8.5" fill="#6e6e6e" transform="rotate(-20 383.0 554.0)"/>
<ellipse cx="409.0" cy="562.0" rx="11.5" ry="10.5" fill="#6a6a6a"/>
<ellipse cx="386.0" cy="567.0" rx="10.5" ry="9.5" fill="#686868" transform="rotate(-20 386.0 567.0)"/>
<ellipse cx="359.0" cy="577.0" rx="10.5" ry="8.5" fill="#666666"/>
<ellipse cx="375.0" cy="580.0" rx="8.5" ry="5.5" fill="#666666"/>
<ellipse cx="401.0" cy="579.0" rx="8.5" ry="6.5" fill="#6c6c6c"/>
<ellipse cx="420.0" cy="578.0" rx="7.5" ry="8.5" fill="#6c6c6c"/>
<ellipse cx="426.0" cy="554.0" rx="3.5" ry="8.5" fill="#626262"/>
<ellipse cx="340.0" cy="578.0" rx="5.5" ry="5.5" fill="#4e4e4e"/>
</g></g>
<clipPath id="c_m6"><rect x="429.30" y="499.10" width="90.70" height="87.90"/></clipPath>
<g clip-path="url(#c_m6)">
<rect x="424.30" y="494.10" width="100.70" height="97.90" fill="#1c1c1c"/>
<g filter="url(#glow)" opacity="0.25">
<ellipse cx="505.2" cy="513.0" rx="14.0" ry="14.0" fill="#4c4c4c"/>
<ellipse cx="485.8" cy="515.8" rx="11.0" ry="10.0" fill="#585858"/>
<ellipse cx="471.0" cy="525.0" rx="12.0" ry="11.0" fill="#4a4a4a"/>
<ellipse cx="509.0" cy="532.5" rx="15.0" ry="12.0" fill="#4a4a4a" transform="rotate(-20 509.0 532.5)"/>
<ellipse cx="442.5" cy="533.4" rx="15.0" ry="12.0" fill="#4a4a4a"/>
<ellipse cx="488.6" cy="542.6" rx="13.0" ry="11.0" fill="#555"/>
<ellipse cx="450.8" cy="559.2" rx="17.0" ry="13.0" fill="#444" transform="rotate(-10 450.8 559.2)"/>
<ellipse cx="486.8" cy="528.8" rx="9.0" ry="8.0" fill="#909090"/>
<ellipse cx="468.9" cy="541.7" rx="9.0" ry="9.0" fill="#8a8a8a"/>
<ellipse cx="476.6" cy="558.3" rx="13.0" ry="10.0" fill="#8c8c8c"/>
<ellipse cx="489.5" cy="569.4" rx="10.0" ry="11.0" fill="#6a6a6a"/>
<ellipse cx="476.6" cy="575.0" rx="11.0" ry="10.0" fill="#707070"/>
</g>
<filter id="f_m6" x="-50%" y="-50%" width="200%" height="200%" color-interpolation-filters="sRGB"><feGaussianBlur stdDeviation="1.60" result="b"/><feTurbulence type="fractalNoise" baseFrequency="0.13" numOctaves="2" seed="9" result="t"/><feColorMatrix in="t" type="matrix" values="0 0 0 0 0  0 0 0 0 0  0 0 0 0 0  1.6 0 0 0 -0.3" result="ta"/><feComposite in="ta" in2="b" operator="in" result="dk"/><feComponentTransfer in="dk" result="dk2"><feFuncA type="linear" slope="0.20"/></feComponentTransfer><feMerge><feMergeNode in="b"/><feMergeNode in="dk2"/></feMerge></filter>
<g filter="url(#f_m6)">
<ellipse cx="505.2" cy="513.0" rx="11.0" ry="11.0" fill="#555555"/>
<ellipse cx="485.8" cy="515.8" rx="8.0" ry="7.0" fill="#616161"/>
<ellipse cx="471.0" cy="525.0" rx="9.0" ry="8.0" fill="#535353"/>
<ellipse cx="509.0" cy="532.5" rx="12.0" ry="9.0" fill="#535353" transform="rotate(-20 509.0 532.5)"/>
<ellipse cx="442.5" cy="533.4" rx="12.0" ry="9.0" fill="#535353"/>
<ellipse cx="488.6" cy="542.6" rx="10.0" ry="8.0" fill="#5e5e5e"/>
<ellipse cx="450.8" cy="559.2" rx="14.0" ry="10.0" fill="#4d4d4d" transform="rotate(-10 450.8 559.2)"/>
<ellipse cx="486.8" cy="528.8" rx="6.0" ry="5.0" fill="#999999"/>
<ellipse cx="468.9" cy="541.7" rx="6.0" ry="6.0" fill="#939393"/>
<ellipse cx="476.6" cy="558.3" rx="10.0" ry="7.0" fill="#959595"/>
<ellipse cx="489.5" cy="569.4" rx="7.0" ry="8.0" fill="#737373"/>
<ellipse cx="476.6" cy="575.0" rx="8.0" ry="7.0" fill="#797979"/>
</g></g>
<path d="M333.4 499 V585.7 H427" fill="none" stroke="#d4d4d4" stroke-width="0.9"/>
</g>
</svg></body></html>
